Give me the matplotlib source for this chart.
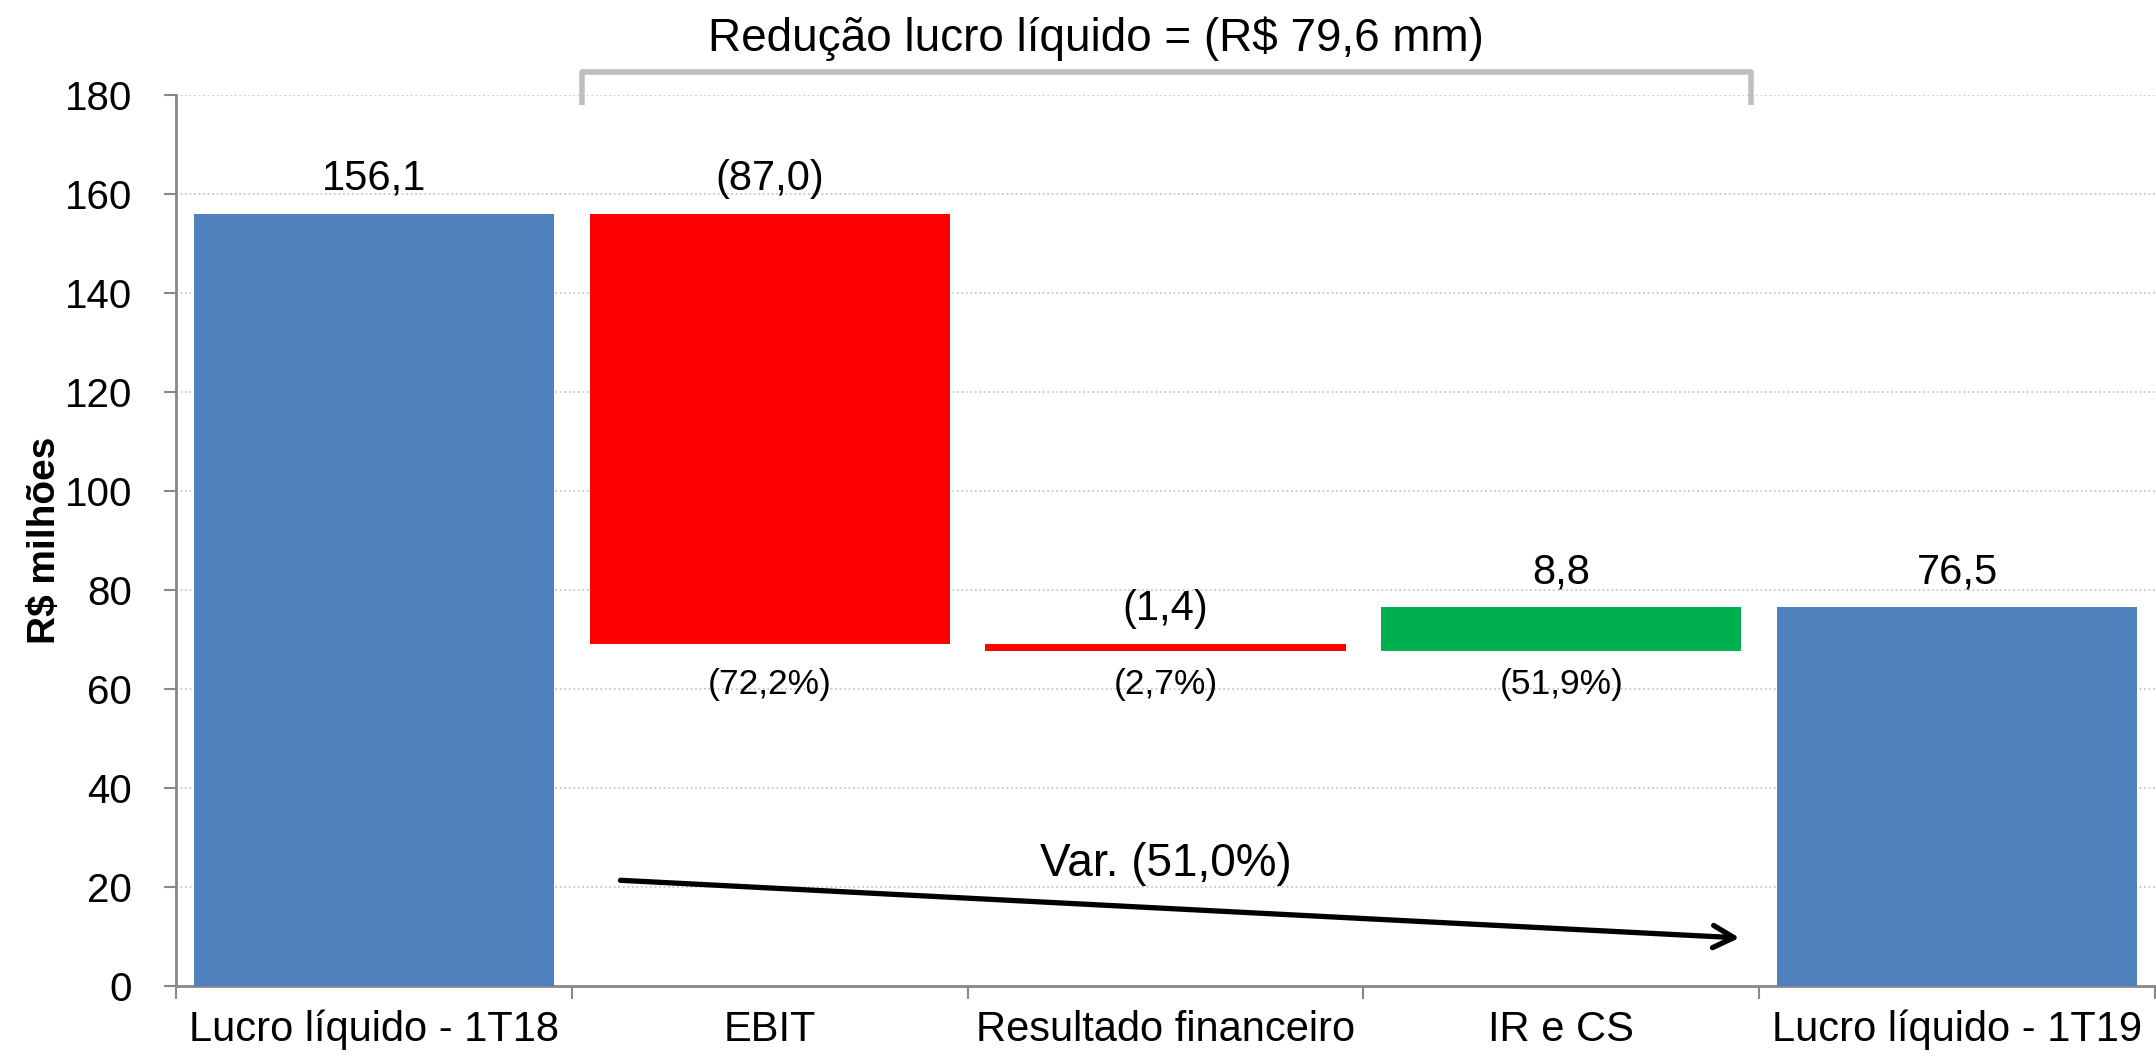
import matplotlib
matplotlib.use("Agg")
import matplotlib.pyplot as plt
from matplotlib.patches import FancyArrowPatch
import numpy as np

plt.rcParams['font.family'] = ['Liberation Sans', 'DejaVu Sans']

categories = ["Lucro líquido - 1T18", "EBIT", "Resultado financeiro", "IR e CS", "Lucro líquido - 1T19"]
changes = [156.1, -87.0, -1.4, 8.8, 76.5]
kinds = ["total", "delta", "delta", "delta", "total"]
value_labels = ["156,1", "(87,0)", "(1,4)", "8,8", "76,5"]
pct_labels = ["", "(72,2%)", "(2,7%)", "(51,9%)", ""]
title_text = "Redução lucro líquido = (R$ 79,6 mm)"
var_text = "Var. (51,0%)"
ylabel = "R$ milhões"
yticks = [0, 20, 40, 60, 80, 100, 120, 140, 160, 180]

BLUE = "#4F81BD"
RED = "#FF0000"
GREEN = "#00B050"

fig = plt.figure(figsize=(21.56, 10.58), dpi=100)
ax = fig.add_axes([0.0816, 0.068, 0.918, 0.842])

x = np.arange(len(categories))
bottoms, heights, colors = [], [], []
running = 0.0
for v, k in zip(changes, kinds):
    if k == "total":
        bottoms.append(0)
        heights.append(v)
        colors.append(BLUE)
        running = v
    else:
        new = running + v
        bottoms.append(min(running, new))
        heights.append(abs(v))
        colors.append(RED if v < 0 else GREEN)
        running = new

ax.bar(x, heights, bottom=bottoms, width=0.91, color=colors, zorder=3)

for i in range(len(categories)):
    top = bottoms[i] + heights[i]
    ax.text(x[i], top + 7, value_labels[i], ha="center", va="center", fontsize=30, zorder=4)
    if pct_labels[i]:
        ax.text(x[i], 61, pct_labels[i], ha="center", va="center", fontsize=25.5, zorder=4)

ax.set_xlim(-0.5, 4.5)
ax.set_ylim(0, 180)
ax.set_yticks(yticks)
ax.set_yticklabels([str(t) for t in yticks], fontsize=29)
ax.set_xticks(x)
ax.set_xticklabels(categories, fontsize=30)
ax.set_xticks(np.arange(-0.5, 5.0, 1.0), minor=True)
ax.tick_params(axis="x", which="major", length=0, pad=17)
ax.tick_params(axis="x", which="minor", length=9, color="#888888", width=1.5)
ax.tick_params(axis="y", length=8.6, color="#888888", width=1.5, pad=23)

for s in ["top", "right"]:
    ax.spines[s].set_visible(False)
for s in ["left", "bottom"]:
    ax.spines[s].set_color("#888888")
    ax.spines[s].set_linewidth(2)

ax.yaxis.grid(True, linestyle=(0, (1, 1.5)), color="#c8c8c8", linewidth=1.3, zorder=0)
ax.set_axisbelow(True)

ax.set_ylabel(ylabel, fontsize=28, fontweight="bold", labelpad=1)

# bracket
bx0, bx1, by_top, by_bot = 0.526, 3.478, 184.7, 178.0
ax.plot([bx0, bx0, bx1, bx1], [by_bot, by_top, by_top, by_bot], color="#bfbfbf",
        linewidth=4, solid_joinstyle="round", solid_capstyle="butt", clip_on=False, zorder=5)
ax.text(1.825, 191.4, title_text, ha="center", va="center", fontsize=33, clip_on=False)

# arrow
arr = FancyArrowPatch((0.616, 21.4), (3.457, 9.7), arrowstyle="->,head_length=15,head_width=8",
                      color="black", linewidth=3.8, mutation_scale=1, zorder=5,
                      capstyle="round", joinstyle="round")
ax.add_patch(arr)
ax.text(2.0, 24.7, var_text, ha="center", va="center", fontsize=33, zorder=5)

fig.savefig("out.png", dpi=100)
